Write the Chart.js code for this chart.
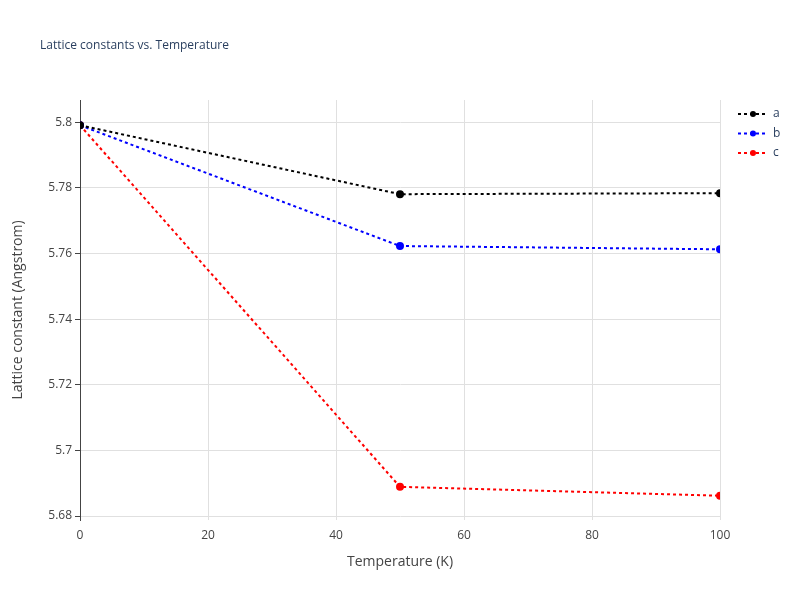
<!DOCTYPE html>
<html>
<head>
<meta charset="utf-8">
<script src="https://cdn.jsdelivr.net/npm/chart.js@4/dist/chart.umd.min.js"></script>
<style>
  body { margin: 0; background: #fff; }
  #wrap { width: 800px; height: 600px; }
</style>
</head>
<body>
<div id="wrap"><canvas id="latticeChart" width="800" height="600"></canvas></div>
<script>
// Lattice constants vs temperature
const temperatures = [0, 50, 100];
const latticeA = [5.7991, 5.7781, 5.7784];
const latticeB = [5.7991, 5.7623, 5.7613];
const latticeC = [5.7991, 5.6889, 5.6862];
const yTicks = [5.68, 5.70, 5.72, 5.74, 5.76, 5.78, 5.80];
const xTicks = [0, 20, 40, 60, 80, 100];

const seriesNames = ['a', 'b', 'c'];
const seriesColors = ['black', 'blue', 'red'];
const seriesValues = [latticeA, latticeB, latticeC];

const font = '"Open Sans", "Noto Sans", sans-serif';

function makeDataset(i) {
    return {
        label: seriesNames[i],
        data: temperatures.map((t, k) => ({ x: t, y: seriesValues[i][k] })),
        borderColor: seriesColors[i],
        backgroundColor: seriesColors[i],
        borderWidth: 2,
        borderDash: [3, 3],
        pointRadius: 3,
        pointHoverRadius: 3,
        tension: 0
    };
}

// title + legend drawn like the original
const extras = {
    id: 'extras',
    afterDraw(chart) {
        const c = chart.ctx;
        c.save();
        c.fillStyle = '#2a3f5f';
        c.font = '12px ' + font;
        c.textBaseline = 'middle';
        c.fillText('Lattice constants vs. Temperature', 40, 46);
        seriesNames.forEach((name, i) => {
            const y = 114 + i * 19.5;
            c.strokeStyle = seriesColors[i];
            c.fillStyle = seriesColors[i];
            c.lineWidth = 2;
            c.setLineDash([3, 3]);
            c.beginPath(); c.moveTo(738, y); c.lineTo(768, y); c.stroke();
            c.setLineDash([]);
            c.beginPath(); c.arc(753, y, 3, 0, Math.PI * 2); c.fill();
            c.fillStyle = '#2a3f5f';
            c.font = '12px ' + font;
            c.fillText(name, 773, y);
        });
        c.restore();
    }
};

const ctx = document.getElementById('latticeChart').getContext('2d');
const latticeChart = new Chart(ctx, {
    type: 'line',
    data: { datasets: [0, 1, 2].map(makeDataset) },
    options: {
        responsive: false,
        animation: false,
        layout: { padding: { top: 100, right: 80, left: 6, bottom: 26 } },
        plugins: { legend: { display: false }, tooltip: { enabled: false } },
        scales: {
            x: {
                type: 'linear',
                min: 0, max: 100,
                afterFit(s) { s.height = 54; },
                afterBuildTicks(s) { s.ticks = xTicks.map(v => ({ value: v })); },
                grid: { color: '#e0e0e0', drawTicks: false },
                border: { display: false },
                ticks: { color: '#444', font: { family: font, size: 12 }, padding: 8 },
                title: { display: true, text: 'Temperature (K)', color: '#444', font: { family: font, size: 14 }, padding: { top: 6 } }
            },
            y: {
                min: 5.6788, max: 5.8068,
                afterFit(s) { s.width = 74; },
                afterBuildTicks(s) { s.ticks = yTicks.map(v => ({ value: v })); },
                grid: { color: '#e0e0e0', tickLength: 5, tickColor: '#444' },
                border: { display: true, color: '#444', width: 1 },
                ticks: {
                    color: '#444', font: { family: font, size: 12 }, padding: 3,
                    callback: v => String(Number(v.toFixed(2)))
                },
                title: { display: true, text: 'Lattice constant (Angstrom)', color: '#444', font: { family: font, size: 14 }, padding: { bottom: 4 } }
            }
        }
    },
    plugins: [extras]
});
</script>
</body>
</html>
